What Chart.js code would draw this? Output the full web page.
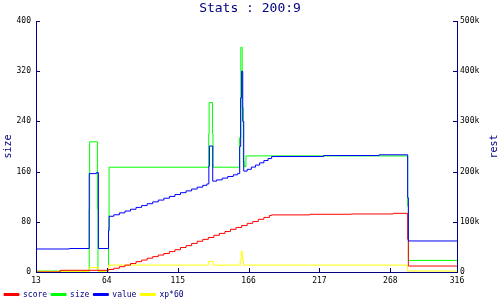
<!DOCTYPE html>
<html>
<head>
<meta charset="utf-8">
<script src="https://cdn.jsdelivr.net/npm/chart.js@4/dist/chart.umd.min.js"></script>
<style>
  html, body { margin: 0; padding: 0; background: #fff; }
  #wrap { width: 500px; height: 300px; }
</style>
</head>
<body>
<div id="wrap"><canvas id="chart" width="500" height="300"></canvas></div>
<script>
// x ticks
const xTicks = [13, 64, 115, 166, 217, 268, 316];

// score (left axis)
const scoreX = [13, 30.3, 65.2, 69, 73, 77, 81, 85, 89, 93, 97, 101, 105, 109, 113, 117, 121, 125, 129, 133, 137, 141, 145, 149, 153, 157, 161, 165, 169, 173, 177, 181, 182.6, 210, 240, 270, 280.5, 281, 316];
const scoreY = [0, 2.7, 4, 6, 8.5, 11, 13.5, 16.5, 19, 22, 24.5, 27, 29.5, 32.5, 35.5, 39, 42, 45.5, 49, 52, 55, 58.5, 61.5, 64.5, 68, 71, 74, 77.5, 80.5, 84, 87, 90, 91, 92, 92.5, 93.5, 52, 9.5, 9.5];

// size (left axis)
const sizeX = [13, 51.3, 51.6, 57.2, 57.6, 65.2, 65.6, 137.3, 137.6, 140, 140.4, 159.5, 160.4, 161.4, 162.2, 162.8, 164.1, 280.5, 281, 316];
const sizeY = [1.5, 100, 207.5, 100, 1.5, 70, 167, 220, 270, 220, 167, 214, 358, 262, 176, 168, 185, 105, 18.5, 18.5];

// value (right axis, "rest")
const valueX = [13, 37, 51.3, 56.5, 57.9, 65.2, 65.6, 69, 73, 77, 81, 85, 89, 93, 97, 101, 105, 109, 113, 117, 121, 125, 129, 133, 136, 137.4, 137.8, 140.2, 143, 147, 151, 155, 158, 159.6, 160.3, 161, 161.8, 162.5, 165, 168, 171, 174, 177, 180, 182.6, 220, 260, 280.5, 281, 316];
const valueY = [45800, 46800, 196000, 198000, 46800, 82000, 111000, 114000, 117800, 121400, 125000, 128700, 132300, 136000, 139700, 143300, 147000, 150600, 154300, 158000, 161600, 165300, 169000, 172600, 175400, 211000, 251000, 181000, 183500, 187000, 190300, 193600, 196000, 250000, 347000, 400000, 300000, 201000, 204500, 209000, 213000, 217500, 222000, 226000, 230000, 232000, 233500, 148000, 61800, 61800];

// xp*60 (left axis)
const xpX = [13, 51.3, 57.9, 65.2, 137.3, 140.4, 160, 160.8, 161.5, 162.3, 280.5, 316];
const xpY = [1, 7, 1, 11, 17, 11, 20, 33, 20, 11, 1.5, 1.5];

const NAVY = "#000080";
const MONO = "'DejaVu Sans Mono', monospace";

function pts(xs, ys){ return xs.map((x, i) => ({ x, y: ys[i] })); }

function line(label, color, xs, ys, axis, order){
  return {
    label, data: pts(xs, ys), yAxisID: axis, order,
    borderColor: color, backgroundColor: color,
    borderWidth: 1, pointRadius: 0, stepped: true, fill: false
  };
}

// ticks pointing into the plot, plus right-hand title read bottom-to-top
const axisExtras = {
  id: "axisExtras",
  afterDraw(chart){
    const { ctx, chartArea: a, scales } = chart;
    ctx.save();
    ctx.strokeStyle = NAVY;
    ctx.lineWidth = 1;
    ctx.beginPath();
    scales.x.ticks.forEach(t => {
      const px = Math.round(scales.x.getPixelForValue(t.value)) + 0.5;
      ctx.moveTo(px, a.bottom); ctx.lineTo(px, a.bottom - 4);
    });
    scales.y.ticks.forEach(t => {
      const py = Math.round(scales.y.getPixelForValue(t.value)) + 0.5;
      ctx.moveTo(a.left, py); ctx.lineTo(a.left + 4, py);
    });
    scales.y1.ticks.forEach(t => {
      const py = Math.round(scales.y1.getPixelForValue(t.value)) + 0.5;
      ctx.moveTo(a.right, py); ctx.lineTo(a.right - 4, py);
    });
    ctx.stroke();

    ctx.fillStyle = NAVY;
    ctx.font = "10px " + MONO;
    ctx.textAlign = "center";
    ctx.textBaseline = "middle";
    ctx.translate(494.5, (a.top + a.bottom) / 2);
    ctx.rotate(-Math.PI / 2);
    ctx.fillText("rest", 0, 0);
    ctx.restore();
  }
};

new Chart(document.getElementById("chart"), {
  type: "line",
  data: {
    datasets: [
      line("score", "#ff0000", scoreX, scoreY, "y", 1),
      line("size", "#00ff00", sizeX, sizeY, "y", 2),
      line("value", "#0000ff", valueX, valueY, "y1", 0),
      line("xp*60", "#ffff00", xpX, xpY, "y", 1)
    ]
  },
  options: {
    responsive: false,
    animation: false,
    layout: { padding: 0 },
    plugins: {
      title: {
        display: true, text: "Stats : 200:9", color: NAVY,
        font: { family: MONO, size: 13, weight: "normal" },
        padding: { top: 1, bottom: 4.4 }
      },
      legend: {
        position: "bottom", align: "start", maxHeight: 13.5,
        labels: {
          color: NAVY, boxWidth: 15, boxHeight: 2, padding: 4,
          font: { family: MONO, size: 8 },
          sort: (a, b) => a.datasetIndex - b.datasetIndex
        }
      },
      tooltip: { enabled: false }
    },
    scales: {
      x: {
        type: "linear", min: 13, max: 316,
        afterBuildTicks: s => { s.ticks = xTicks.map(v => ({ value: v })); },
        afterFit: s => { s.height = 14.5; },
        grid: { display: false, drawTicks: false },
        border: { display: true, color: NAVY },
        ticks: { color: "#000", padding: 4, maxRotation: 0, autoSkip: false, font: { family: MONO, size: 8 } }
      },
      y: {
        position: "left", min: 0, max: 400,
        afterFit: s => { s.width = 36; },
        grid: { display: false, drawTicks: false },
        border: { display: true, color: NAVY },
        ticks: { stepSize: 80, color: "#000", padding: 5, font: { family: MONO, size: 8 } },
        title: { display: true, text: "size", color: NAVY, padding: 2, font: { family: MONO, size: 10 } }
      },
      y1: {
        position: "right", min: 0, max: 500000,
        afterFit: s => { s.width = 43; },
        grid: { display: false, drawTicks: false },
        border: { display: true, color: NAVY },
        ticks: {
          stepSize: 100000, color: "#000", padding: 3, font: { family: MONO, size: 8 },
          callback: v => v === 0 ? "0" : (v / 1000) + "k"
        }
      }
    }
  },
  plugins: [axisExtras]
});
</script>
</body>
</html>
